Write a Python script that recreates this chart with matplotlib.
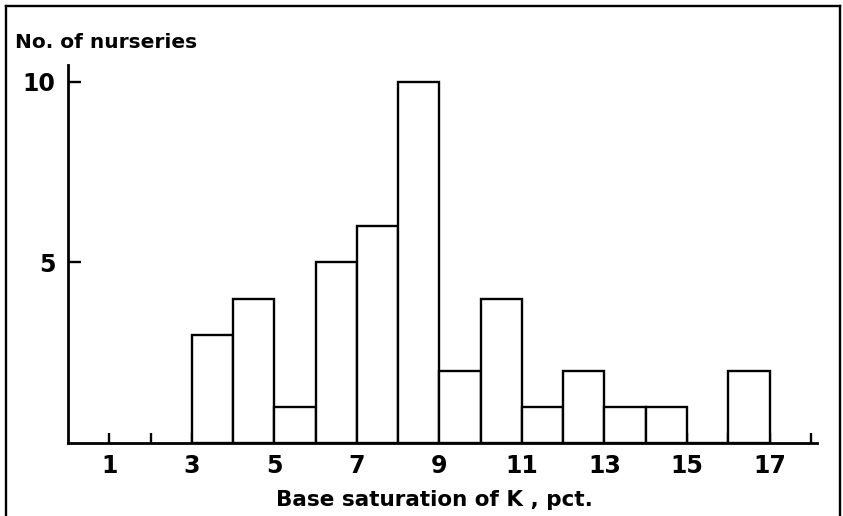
import matplotlib
matplotlib.use('Agg')
import matplotlib.pyplot as plt
from matplotlib.lines import Line2D

# base saturation of K (pct), one bin per unit, and the count in each bin
bin_left = [3, 4, 5, 6, 7, 8, 9, 10, 11, 12, 13, 14, 15, 16]
counts = [3, 4, 1, 5, 6, 10, 2, 4, 1, 2, 1, 1, 0, 2]

xtick_pos = list(range(1, 19))
xtick_lab = [str(v) if v % 2 == 1 and v < 18 else '' for v in xtick_pos]
ytick_pos = [5, 10]
ytick_lab = ['5', '10']

plt.rcParams['font.family'] = ['DejaVu Sans']

W, H = 843, 516
fig = plt.figure(figsize=(W / 100, H / 100), dpi=100)
ax = fig.add_axes([68 / W, 1 - 443 / H, (817 - 68) / W, (443 - 65) / H])

ax.bar(bin_left, counts, width=1.0, align='edge', facecolor='white',
       edgecolor='black', linewidth=1.7, zorder=2)

ax.set_xlim(0, 18.15)
ax.set_ylim(0, 10.47)
for s in ['top', 'right']:
    ax.spines[s].set_visible(False)
for s in ['left', 'bottom']:
    ax.spines[s].set_linewidth(2.0)
    ax.spines[s].set_zorder(3)

ax.set_xticks(xtick_pos)
ax.set_xticklabels(xtick_lab, fontweight='bold')
ax.set_yticks(ytick_pos)
ax.set_yticklabels(ytick_lab, fontweight='bold')
ax.tick_params(axis='x', direction='in', length=7, width=1.7, pad=8, labelsize=17)
ax.tick_params(axis='y', direction='in', length=9.5, width=1.7, pad=9, labelsize=17)

fig.text(15 / W, 1 - 48 / H, 'No. of nurseries', fontsize=14.5, fontweight='bold',
         ha='left', va='baseline')
fig.text(434 / W, 1 - 506 / H, 'Base saturation of K , pct.', fontsize=15.5,
         fontweight='bold', ha='center', va='baseline')

# frame round the figure (open at the bottom, as in the scan)
for xs, ys in [([6, 6], [6, 516]), ([6, 840], [6, 6]), ([840, 840], [6, 516])]:
    fig.add_artist(Line2D([x / W for x in xs], [1 - y / H for y in ys],
                          transform=fig.transFigure, color='black', lw=1.7))

fig.savefig('out.png', dpi=100)
